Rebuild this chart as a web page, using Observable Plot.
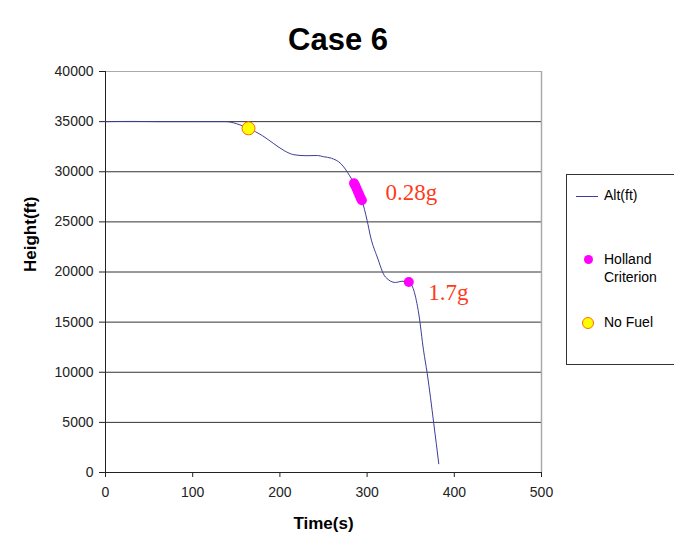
<!DOCTYPE html>
<html>
<head>
<meta charset="utf-8">
<script src="https://cdn.jsdelivr.net/npm/d3@7"></script>
<script src="https://cdn.jsdelivr.net/npm/@observablehq/plot@0.6"></script>
<style>
  html, body { margin: 0; padding: 0; background: #fff; width: 674px; height: 553px; overflow: hidden; position: relative; font-family: "Liberation Sans", Arial, sans-serif; }
  #title { height: 60px; line-height: 79px; text-align: center; font-weight: bold; font-size: 31px; color: #000; padding-left: 2px; box-sizing: border-box; }
  #legend { position: absolute; left: 566px; top: 174px; width: 130px; height: 189px; border: 1px solid #333; background: #fff; font-size: 14px; color: #000; }
  .li { position: absolute; left: 0; white-space: nowrap; }
  .sw-line { position: absolute; left: 9px; width: 22px; height: 0; border-top: 1px solid #3d3d99; }
  .sw-dot { position: absolute; border-radius: 50%; }
</style>
</head>
<body>
<div id="title">Case 6</div>
<div id="chart"></div>
<div id="legend">
  <div class="sw-line" style="top:21px"></div>
  <div class="li" style="left:37px; top:12px">Alt(ft)</div>
  <div class="sw-dot" style="left:17px; top:80px; width:9px; height:9px; background:#ff00ff"></div>
  <div class="li" style="left:37px; top:75px; line-height:18px">Holland<br>Criterion</div>
  <div class="sw-dot" style="left:15px; top:142px; width:10px; height:10px; background:#ffff00; border:1px solid #ff6a00"></div>
  <div class="li" style="left:37px; top:139px">No Fuel</div>
</div>
<script>
const time = [0, 30, 60, 100, 138, 150, 164, 180, 193, 205, 216, 230, 243, 250, 259, 270, 280, 285, 290, 294, 300, 304, 311.6, 321, 332.6, 340, 347.8, 353.6, 359.3, 364.7, 369, 376.5, 382.2];
const alt  = [35000, 35020, 35000, 35000, 35000, 34800, 34330, 33600, 32800, 32100, 31700, 31600, 31620, 31500, 31350, 30800, 29600, 28850, 28000, 27150, 25150, 23500, 21500, 19500, 18950, 19080, 19000, 18150, 15800, 12200, 9850, 4860, 870];

const hollandTime = [285, 286.5, 288, 289.5, 291, 292.5, 294, 347.8];
const hollandAlt  = [28850, 28600, 28300, 28000, 27700, 27400, 27150, 19000];

const noFuelTime = [164];
const noFuelAlt  = [34330];

const noteText = ["0.28g", "1.7g"];
const noteTime = [321, 370];
const noteAlt  = [27940, 17960];

const xTicks = [0, 100, 200, 300, 400, 500];
const yTicks = [0, 5000, 10000, 15000, 20000, 25000, 30000, 35000, 40000];
const gridY  = [5000, 10000, 15000, 20000, 25000, 30000, 35000];

const altData = time.map((t, i) => ({t, h: alt[i]}));
const holland = hollandTime.map((t, i) => ({t, h: hollandAlt[i]}));
const noFuel = noFuelTime.map((t, i) => ({t, h: noFuelAlt[i]}));
const notes = noteText.map((s, i) => ({s, t: noteTime[i], h: noteAlt[i]}));

const chart = Plot.plot({
  width: 674,
  height: 493,
  marginLeft: 105,
  marginRight: 133,
  marginTop: 11,
  marginBottom: 81,
  style: { fontFamily: "Liberation Sans, Arial, sans-serif", fontSize: "14px", color: "#222", background: "#fff", overflow: "visible" },
  x: { domain: [0, 500], label: null },
  y: { domain: [0, 40000], label: null },
  marks: [
    Plot.ruleY(gridY, {stroke: "#333", strokeWidth: 1}),
    Plot.ruleY([40000], {stroke: "#aaa", strokeWidth: 1}),
    Plot.ruleX([500], {stroke: "#aaa", strokeWidth: 1.5}),
    Plot.axisX({ticks: xTicks, tickFormat: d => String(d), tickSize: 5, tickPadding: 10, stroke: "#222", label: null}),
    Plot.axisY({ticks: yTicks, tickFormat: d => String(d), tickSize: 6, tickPadding: 6, stroke: "#222", label: null}),
    Plot.ruleX([0], {stroke: "#222", strokeWidth: 1}),
    Plot.ruleY([0], {stroke: "#222", strokeWidth: 1}),
    Plot.line(altData, {x: "t", y: "h", stroke: "#3d3d99", strokeWidth: 1, curve: "monotone-x"}),
    Plot.dot(holland, {x: "t", y: "h", r: 5, fill: "#ff00ff", stroke: "none"}),
    Plot.dot(noFuel, {x: "t", y: "h", r: 6.5, fill: "#ffff00", stroke: "#ff6a00", strokeWidth: 1}),
    Plot.text(notes, {x: "t", y: "h", text: "s", textAnchor: "start", fill: "#ff3a1a", fontFamily: "Liberation Serif, Times New Roman, serif", fontSize: 23, lineAnchor: "middle"}),
    Plot.text(["Time(s)"], {frameAnchor: "bottom", dy: 51, text: d => d, fontWeight: "bold", fontSize: 17, fill: "#000", lineAnchor: "middle"}),
    Plot.text(["Height(ft)"], {frameAnchor: "left", dx: -75, rotate: -90, text: d => d, fontWeight: "bold", fontSize: 17, fill: "#000", lineAnchor: "middle"})
  ]
});
document.getElementById("chart").appendChild(chart);
</script>
</body>
</html>
